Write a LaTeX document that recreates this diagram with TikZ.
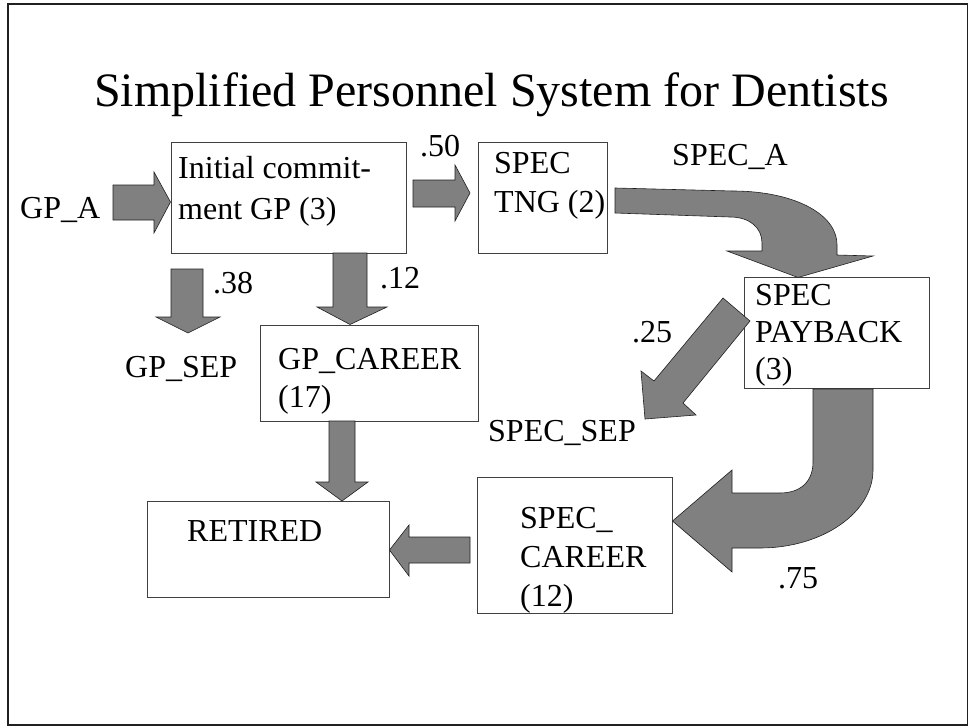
\documentclass[tikz,border=0pt]{standalone}
\usepackage{fontspec}
\setmainfont{Liberation Serif}
\definecolor{arrowgray}{HTML}{808080}
\definecolor{boxc}{HTML}{404040}
\definecolor{edgec}{HTML}{202020}
\begin{document}
\begin{tikzpicture}[x=1pt,y=-1pt,
  box/.style={draw=boxc, line width=0.8pt, inner sep=0pt, anchor=north west},
  blk/.style={fill=arrowgray, draw=edgec, line width=0.6pt, line join=miter},
  lbl/.style={inner sep=0pt, anchor=base west, font=\fontsize{32}{38}\selectfont},
  ttl/.style={inner sep=0pt, anchor=base west, font=\fontsize{48}{58}\selectfont}]
\useasboundingbox (0,0) rectangle (969,726);
\draw[line width=1.5pt, draw=edgec] (8,4) rectangle (967.5,725);

% title
\node[ttl] (title) at (94,106) {Simplified Personnel System for Dentists};

% boxes
\node[box, minimum width=235pt, minimum height=111pt] (ic)  at (171,142) {};
\node[box, minimum width=129pt, minimum height=111pt] (tng) at (478,142) {};
\node[box, minimum width=218pt, minimum height=96pt]  (gpc) at (260,325) {};
\node[box, minimum width=185pt, minimum height=111pt] (pay) at (744,277) {};
\node[box, minimum width=242pt, minimum height=96pt]  (ret) at (147,501) {};
\node[box, minimum width=195pt, minimum height=136pt] (spc) at (477,477) {};

% box texts
\node[lbl] (ic1) at (178,178) {Initial commit-};
\node[lbl] (ic2) at (178,219) {ment GP (3)};
\node[lbl] (tng1) at (494,173) {SPEC};
\node[lbl] (tng2) at (494,212) {TNG (2)};
\node[lbl] (gpc1) at (278,369) {GP\_CAREER};
\node[lbl] (gpc2) at (278,407) {(17)};
\node[lbl] (pay1) at (755,305) {SPEC};
\node[lbl] (pay2) at (755,342) {PAYBACK};
\node[lbl] (pay3) at (755,379) {(3)};
\node[lbl] (ret1) at (187,541) {RETIRED};
\node[lbl] (spc1) at (520,528) {SPEC\_};
\node[lbl] (spc2) at (520,567) {CAREER};
\node[lbl] (spc3) at (520,606) {(12)};

% free labels
\node[lbl] (gpa) at (20,218) {GP\_A};
\node[lbl] (p50) at (420,156) {.50};
\node[lbl] (speca) at (672,165) {SPEC\_A};
\node[lbl] (p12) at (380,288) {.12};
\node[lbl] (p38) at (213,293) {.38};
\node[lbl] (gpsep) at (125,377) {GP\_SEP};
\node[lbl] (p25) at (632,342) {.25};
\node[lbl] (specsep) at (488,441) {SPEC\_SEP};
\node[lbl] (p75) at (778,588) {.75};

% block arrows
% GP_A -> initial commitment
\draw[blk] (113,185) -- (154,185) -- (154,172) -- (170.5,202) -- (154,233) -- (154,220) -- (113,220) -- cycle;
% .50 initial -> spec tng
\draw[blk] (413,180) -- (455,180) -- (455,165) -- (470,193) -- (455,221) -- (455,207) -- (413,207) -- cycle;
% .12 initial -> gp career
\draw[blk] (333,253) -- (367,253) -- (367,307) -- (387,307) -- (350,324.5) -- (317,307) -- (333,307) -- cycle;
% .38 -> gp_sep
\draw[blk] (171,269) -- (203,269) -- (203,317) -- (220,317) -- (188,333) -- (156,317) -- (171,317) -- cycle;
% gp career -> retired
\draw[blk] (329,421) -- (355,421) -- (355,482) -- (368,482) -- (342,501) -- (316,482) -- (329,482) -- cycle;
% spec career -> retired
\draw[blk] (470,537) -- (409,537) -- (409,525) -- (389.5,550) -- (409,576) -- (409,563) -- (470,563) -- cycle;
% spec tng -> spec payback (curved)
\draw[blk] (615,188) -- (733,191) .. controls (790,191) and (837,212) .. (837,245)
  -- (837,255) -- (873,256) -- (798,277.5) -- (727,251) -- (762,251) -- (762,243)
  .. controls (762,228) and (750,217) .. (730,217) -- (615,213) -- cycle;
% spec payback -> spec_sep
\draw[blk] (723,298) -- (750,321) -- (683,403) -- (696,415) -- (645,419) -- (641,371) -- (654,381) -- cycle;
% spec payback -> spec career (J shaped)
\draw[blk] (813,389) -- (813,462) .. controls (813,482) and (800,493) .. (780,493)
  -- (732,493) -- (732,470) -- (672.5,521) -- (732,572) -- (732,548) -- (760,548)
  .. controls (822,548) and (873,513) .. (873,470) -- (873,389) -- cycle;
\end{tikzpicture}
\end{document}
